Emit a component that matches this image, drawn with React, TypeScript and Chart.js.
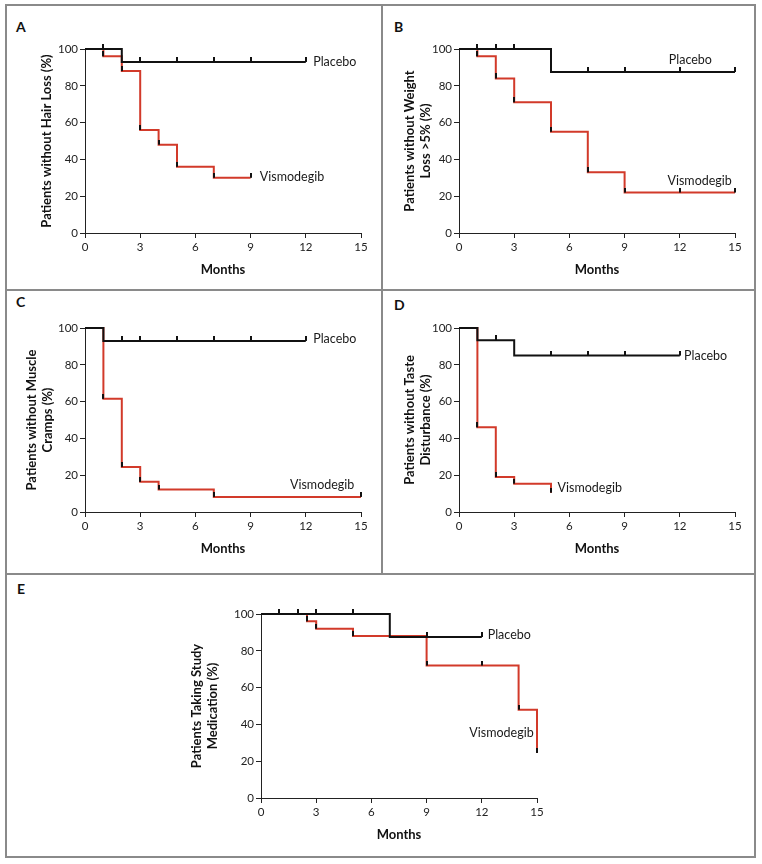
import React, { useEffect, useRef } from "react";
import { Chart, registerables } from "chart.js";

Chart.register(...registerables);

const FONT = "Lato, 'Open Sans', sans-serif";
const RED = "#d23a2a";
const BLACK = "#111111";
const FRAME = "#8a8a8a";

// ---------- shared ticks ----------
const MONTH_TICK_STEP = 3;
const PCT_TICK_STEP = 20;

// ---------- Panel A: Hair loss ----------
const A_placeboMonths = [0, 2, 12];
const A_placeboPct = [100, 93, 93];
const A_vismoMonths = [0, 1, 2, 3, 4, 5, 7, 9];
const A_vismoPct = [100, 96, 88, 56, 48, 36, 30, 30];
const A_placeboCensorMonths = [1, 3, 5, 7, 9, 12];
const A_placeboCensorPct = [100, 93, 93, 93, 93, 93];
const A_vismoCensorMonths = [1, 2, 3, 4, 5, 7, 9];
const A_vismoCensorPct = [96, 88, 56, 48, 36, 30, 30];

// ---------- Panel B: Weight loss ----------
const B_placeboMonths = [0, 5, 15];
const B_placeboPct = [100, 87.5, 87.5];
const B_vismoMonths = [0, 1, 2, 3, 5, 7, 9, 15];
const B_vismoPct = [100, 96, 84, 71, 55, 33, 22, 22];
const B_placeboCensorMonths = [1, 2, 3, 7, 9, 12, 15];
const B_placeboCensorPct = [100, 100, 100, 87.5, 87.5, 87.5, 87.5];
const B_vismoCensorMonths = [1, 2, 3, 5, 7, 9, 12, 15];
const B_vismoCensorPct = [96, 84, 71, 55, 33, 22, 22, 22];

// ---------- Panel C: Muscle cramps ----------
const C_placeboMonths = [0, 1, 12];
const C_placeboPct = [100, 93, 93];
const C_vismoMonths = [0, 1, 2, 3, 4, 7, 15];
const C_vismoPct = [100, 61.5, 24.5, 16.4, 12.2, 8.2, 8.2];
const C_placeboCensorMonths = [2, 3, 5, 7, 9, 12];
const C_placeboCensorPct = [93, 93, 93, 93, 93, 93];
const C_vismoCensorMonths = [1, 2, 3, 4, 7, 15];
const C_vismoCensorPct = [61.5, 24.5, 16.4, 12.2, 8.2, 8.2];

// ---------- Panel D: Taste disturbance ----------
const D_placeboMonths = [0, 1, 3, 12];
const D_placeboPct = [100, 93.3, 85, 85];
const D_vismoMonths = [0, 1, 2, 3, 5];
const D_vismoPct = [100, 46, 19, 15.4, 10.5];
const D_placeboCensorMonths = [2, 5, 7, 9, 12];
const D_placeboCensorPct = [93.3, 85, 85, 85, 85];
const D_vismoCensorMonths = [1, 2, 3, 5];
const D_vismoCensorPct = [46, 19, 15.4, 10.5];

// ---------- Panel E: Taking study medication ----------
const E_placeboMonths = [0, 7, 12];
const E_placeboPct = [100, 87.5, 87.5];
const E_vismoMonths = [0, 2.5, 3, 5, 9, 14, 15];
const E_vismoPct = [100, 96, 92, 88, 72, 48, 24.5];
const E_placeboCensorMonths = [1, 2, 3, 5, 9, 12];
const E_placeboCensorPct = [100, 100, 100, 100, 87.5, 87.5];
const E_vismoCensorMonths = [2.5, 3, 5, 9, 12, 14, 15];
const E_vismoCensorPct = [96, 92, 88, 72, 72, 48, 24.5];

const SERIES_PLACEBO = "Placebo";
const SERIES_VISMO = "Vismodegib";

// ---------- layout constants ----------
const PLOT_W = 276;
const PLOT_H = 184;
const PAD_TOP = 12;
const PAD_RIGHT = 20;
const X_AXIS_H = 45;
const TITLE_SIZE = 13;
const TITLE_LH = 16.7;

type Panel = {
  letter: string;
  letterLeft: number;
  letterTop: number;
  left: number;
  top: number;
  titleDist: number;
  yTitle: string | string[];
  pM: number[];
  pP: number[];
  vM: number[];
  vP: number[];
  pcM: number[];
  pcP: number[];
  vcM: number[];
  vcP: number[];
  placeboLabel: [number, number];
  vismoLabel: [number, number];
};

const PANELS: Panel[] = [
  {
    letter: "A", letterLeft: 16, letterTop: 19.5,
    left: 85, top: 49, titleDist: 38.6,
    yTitle: "Patients without Hair Loss (%)",
    pM: A_placeboMonths, pP: A_placeboPct, vM: A_vismoMonths, vP: A_vismoPct,
    pcM: A_placeboCensorMonths, pcP: A_placeboCensorPct, vcM: A_vismoCensorMonths, vcP: A_vismoCensorPct,
    placeboLabel: [12.4, 93], vismoLabel: [9.5, 30.2],
  },
  {
    letter: "B", letterLeft: 394, letterTop: 19.5,
    left: 459, top: 49, titleDist: 49.7,
    yTitle: ["Patients without Weight", "Loss >5% (%)"],
    pM: B_placeboMonths, pP: B_placeboPct, vM: B_vismoMonths, vP: B_vismoPct,
    pcM: B_placeboCensorMonths, pcP: B_placeboCensorPct, vcM: B_vismoCensorMonths, vcP: B_vismoCensorPct,
    placeboLabel: [11.4, 94], vismoLabel: [11.33, 28.5],
  },
  {
    letter: "C", letterLeft: 16, letterTop: 294.5,
    left: 85, top: 328, titleDist: 53.6,
    yTitle: ["Patients without Muscle", "Cramps (%)"],
    pM: C_placeboMonths, pP: C_placeboPct, vM: C_vismoMonths, vP: C_vismoPct,
    pcM: C_placeboCensorMonths, pcP: C_placeboCensorPct, vcM: C_vismoCensorMonths, vcP: C_vismoCensorPct,
    placeboLabel: [12.4, 94.3], vismoLabel: [11.14, 14.6],
  },
  {
    letter: "D", letterLeft: 394, letterTop: 298,
    left: 459, top: 328, titleDist: 49.7,
    yTitle: ["Patients without Taste", "Disturbance (%)"],
    pM: D_placeboMonths, pP: D_placeboPct, vM: D_vismoMonths, vP: D_vismoPct,
    pcM: D_placeboCensorMonths, pcP: D_placeboCensorPct, vcM: D_vismoCensorMonths, vcP: D_vismoCensorPct,
    placeboLabel: [12.23, 84.9], vismoLabel: [5.36, 13.1],
  },
  {
    letter: "E", letterLeft: 17, letterTop: 582,
    left: 261, top: 614, titleDist: 64.3,
    yTitle: ["Patients Taking Study", "Medication (%)"],
    pM: E_placeboMonths, pP: E_placeboPct, vM: E_vismoMonths, vP: E_vismoPct,
    pcM: E_placeboCensorMonths, pcP: E_placeboCensorPct, vcM: E_vismoCensorMonths, vcP: E_vismoCensorPct,
    placeboLabel: [12.32, 88.4], vismoLabel: [11.32, 35.1],
  },
];

function makeTickImage(): HTMLCanvasElement {
  const c = document.createElement("canvas");
  c.width = 2;
  c.height = 10;
  const g = c.getContext("2d")!;
  g.fillStyle = BLACK;
  g.fillRect(0, 0, 2, 5);
  return c;
}

function pts(xs: number[], ys: number[]) {
  return xs.map((x, i) => ({ x, y: ys[i] }));
}

function KMPanel({ p }: { p: Panel }) {
  const ref = useRef<HTMLCanvasElement>(null);
  const yW = p.titleDist + TITLE_LH / 2;
  const cw = Math.round(yW + PLOT_W + PAD_RIGHT);
  const ch = PAD_TOP + PLOT_H + X_AXIS_H;
  const cl = p.left - (cw - PLOT_W - PAD_RIGHT);
  const ct = p.top - PAD_TOP;
  const yWidth = cw - PLOT_W - PAD_RIGHT;

  useEffect(() => {
    if (!ref.current) return;
    const tick = makeTickImage();
    const labelsPlugin = {
      id: "seriesLabels",
      afterDatasetsDraw(chart: any) {
        const { ctx, scales } = chart;
        const xs = scales.x;
        const ys = scales.y;
        ctx.save();
        ctx.font = `12.5px ${FONT}`;
        ctx.fillStyle = "#1a1a1a";
        ctx.textBaseline = "middle";
        ctx.textAlign = "left";
        ctx.fillText(SERIES_PLACEBO, xs.getPixelForValue(p.placeboLabel[0]), ys.getPixelForValue(p.placeboLabel[1]));
        ctx.fillText(SERIES_VISMO, xs.getPixelForValue(p.vismoLabel[0]), ys.getPixelForValue(p.vismoLabel[1]));
        ctx.restore();
      },
    };
    const tickFont = { size: 11.5, family: FONT };
    const chart = new Chart(ref.current, {
      type: "line",
      data: {
        datasets: [
          {
            label: "censor",
            data: [...pts(p.pcM, p.pcP), ...pts(p.vcM, p.vcP)],
            showLine: false,
            pointStyle: tick as any,
            pointRadius: 5,
            order: 0,
            clip: false as any,
          },
          {
            label: SERIES_PLACEBO,
            data: pts(p.pM, p.pP),
            stepped: "before",
            borderColor: BLACK,
            borderWidth: 2,
            pointRadius: 0,
            fill: false,
            order: 1,
            clip: false as any,
          },
          {
            label: SERIES_VISMO,
            data: pts(p.vM, p.vP),
            stepped: "before",
            borderColor: RED,
            borderWidth: 2,
            pointRadius: 0,
            fill: false,
            order: 2,
            clip: false as any,
          },
        ],
      },
      options: {
        animation: false,
        responsive: false,
        devicePixelRatio: 1,
        events: [],
        layout: { padding: { left: 0, top: PAD_TOP, right: PAD_RIGHT, bottom: 0 } },
        plugins: { legend: { display: false }, tooltip: { enabled: false } },
        scales: {
          x: {
            type: "linear",
            min: 0,
            max: 15,
            ticks: { stepSize: MONTH_TICK_STEP, font: tickFont, color: "#222", padding: 2, maxRotation: 0 },
            grid: { drawOnChartArea: false, drawTicks: true, tickLength: 5, color: "#222" },
            border: { color: "#222", width: 1 },
            title: {
              display: true,
              text: "Months",
              font: { size: 13, weight: "bold", family: FONT, lineHeight: 1.2 },
              color: "#111",
              padding: 0,
            },
            afterFit: (s: any) => {
              s.height = X_AXIS_H;
            },
          },
          y: {
            type: "linear",
            min: 0,
            max: 100,
            ticks: { stepSize: PCT_TICK_STEP, font: tickFont, color: "#222", padding: 2 },
            grid: { drawOnChartArea: false, drawTicks: true, tickLength: 5, color: "#222" },
            border: { color: "#222", width: 1 },
            title: {
              display: true,
              text: p.yTitle as any,
              font: { size: TITLE_SIZE, weight: "bold", family: FONT, lineHeight: TITLE_LH / TITLE_SIZE },
              color: "#111",
              padding: 0,
            },
            afterFit: (s: any) => {
              s.width = yWidth;
            },
          },
        },
      } as any,
      plugins: [labelsPlugin],
    });
    return () => chart.destroy();
  }, []);

  return (
    <canvas
      ref={ref}
      width={cw}
      height={ch}
      style={{ position: "absolute", left: cl, top: ct, width: cw, height: ch }}
    />
  );
}

export default function App() {
  return (
    <div
      style={{
        position: "fixed",
        left: 0,
        top: 0,
        width: 762,
        height: 864,
        background: "#ffffff",
        fontFamily: FONT,
        overflow: "hidden",
      }}
    >
      <div
        style={{
          position: "absolute",
          left: 5,
          top: 4,
          width: 747,
          height: 850,
          border: `2px solid ${FRAME}`,
        }}
      />
      <div style={{ position: "absolute", left: 381, top: 4, width: 2, height: 570, background: FRAME }} />
      <div style={{ position: "absolute", left: 5, top: 289, width: 751, height: 2, background: FRAME }} />
      <div style={{ position: "absolute", left: 5, top: 573, width: 751, height: 2, background: FRAME }} />
      {PANELS.map((p) => (
        <div
          key={"l" + p.letter}
          style={{
            position: "absolute",
            left: p.letterLeft,
            top: p.letterTop,
            fontSize: 14,
            lineHeight: "14px",
            fontWeight: 700,
            color: "#111",
          }}
        >
          {p.letter}
        </div>
      ))}
      {PANELS.map((p) => (
        <KMPanel key={p.letter} p={p} />
      ))}
    </div>
  );
}
